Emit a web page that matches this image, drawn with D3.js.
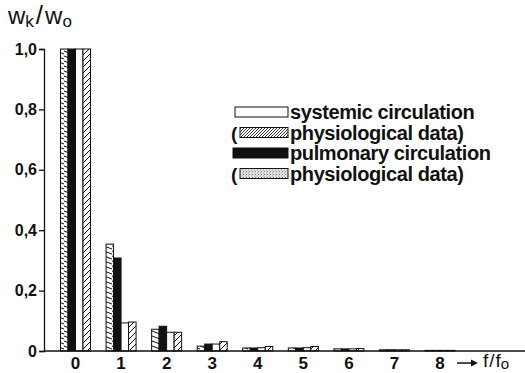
<!DOCTYPE html>
<html>
<head>
<meta charset="utf-8">
<script src="https://cdn.jsdelivr.net/npm/d3@7"></script>
<style>
  body { margin: 0; background: #fff; }
  svg text { font-family: "Liberation Sans", Arial, sans-serif; fill: #111; }
</style>
</head>
<body>
<svg id="chart" width="525" height="373"></svg>
<script>
// harmonics of the input impedance spectrum, w_k / w_0
var harmonics = [0, 1, 2, 3, 4, 5, 6, 7, 8];
var pulmPhys  = [1, 0.354, 0.072, 0.016, 0.010, 0.010, 0.007, 0.004, 0.002];
var pulmonary = [1, 0.308, 0.082, 0.023, 0.010, 0.010, 0.007, 0.004, 0.002];
var systemic  = [1, 0.093, 0.062, 0.023, 0.011, 0.011, 0.007, 0.004, 0.002];
var systPhys  = [1, 0.096, 0.062, 0.031, 0.015, 0.015, 0.008, 0.004, 0.002];
var yTicks = [0, 0.2, 0.4, 0.6, 0.8, 1.0];
var legendLabels = ["systemic circulation", "physiological data)", "pulmonary circulation", "physiological data)"];

var svg = d3.select("#chart");
var defs = svg.append("defs");

// near horizontal hatch used in the bars for the stippled series
var hh = defs.append("pattern").attr("id", "hhatch")
    .attr("patternUnits", "userSpaceOnUse").attr("width", 8).attr("height", 5);
hh.append("rect").attr("width", 8).attr("height", 5).attr("fill", "#fff");
hh.append("line").attr("x1", 0).attr("y1", 1).attr("x2", 8).attr("y2", 4)
    .attr("stroke", "#111").attr("stroke-width", 1);

// diagonal hatch
var dh = defs.append("pattern").attr("id", "dhatch")
    .attr("patternUnits", "userSpaceOnUse").attr("width", 6).attr("height", 6);
dh.append("rect").attr("width", 6).attr("height", 6).attr("fill", "#fff");
dh.append("path").attr("d", "M0,6 L6,0 M-1,1 L1,-1 M5,7 L7,5")
    .attr("stroke", "#111").attr("stroke-width", 1);

// fine diagonal hatch for the legend swatch
var lh = defs.append("pattern").attr("id", "lhatch")
    .attr("patternUnits", "userSpaceOnUse").attr("width", 3).attr("height", 3);
lh.append("rect").attr("width", 3).attr("height", 3).attr("fill", "#fff");
lh.append("path").attr("d", "M0,3 L3,0").attr("stroke", "#333").attr("stroke-width", 1);

// stipple for legend swatch
var st = defs.append("pattern").attr("id", "stipple")
    .attr("patternUnits", "userSpaceOnUse").attr("width", 3).attr("height", 3);
st.append("rect").attr("width", 3).attr("height", 3).attr("fill", "#e4e4e4");
st.append("rect").attr("x", 0).attr("y", 0).attr("width", 1).attr("height", 1).attr("fill", "#777");
st.append("rect").attr("x", 2).attr("y", 1.5).attr("width", 1).attr("height", 1).attr("fill", "#999");

var x = d3.scaleLinear().domain([0, 8]).range([75.5, 440]);
var y = d3.scaleLinear().domain([0, 1]).range([351, 49]);

var series = [
  { values: pulmPhys,  fill: "url(#hhatch)" },
  { values: pulmonary, fill: "#111" },
  { values: systemic,  fill: "#fff" },
  { values: systPhys,  fill: "url(#dhatch)" }
];
var inner = d3.scaleBand().domain(d3.range(series.length)).range([-15, 15]).padding(0);

// bars
series.forEach(function(s, si) {
  svg.append("g").selectAll("rect")
    .data(harmonics)
    .enter().append("rect")
      .attr("x", function(d) { return x(d) + inner(si); })
      .attr("y", function(d, i) { return y(s.values[i]); })
      .attr("width", inner.bandwidth())
      .attr("height", function(d, i) { return y(0) - y(s.values[i]); })
      .attr("fill", s.fill)
      .attr("stroke", "#111")
      .attr("stroke-width", 1);
});

// y axis
var yAxis = d3.axisLeft(y).tickValues(yTicks).tickSize(5).tickPadding(2)
    .tickFormat(function(d) { return d === 0 ? "0" : d3.format(".1f")(d).replace(".", ","); });
var gy = svg.append("g").attr("transform", "translate(44,0)").call(yAxis);
gy.select(".domain").attr("stroke", "#111").attr("stroke-width", 1.3);
gy.selectAll(".tick line").attr("stroke", "#111").attr("stroke-width", 1.3);
gy.selectAll(".tick text").attr("font-size", 16).attr("font-weight", "bold")
    .attr("font-family", "Liberation Sans, Arial, sans-serif").attr("fill", "#111");

// x baseline and labels
svg.append("line").attr("x1", 44).attr("x2", 525).attr("y1", y(0)).attr("y2", y(0))
    .attr("stroke", "#111").attr("stroke-width", 1.3);
svg.append("g").selectAll("text")
  .data(harmonics)
  .enter().append("text")
    .attr("x", function(d) { return x(d); })
    .attr("y", 369)
    .attr("text-anchor", "middle")
    .attr("font-size", 17).attr("font-weight", "bold")
    .text(function(d) { return d; });

// arrow and f/fo
svg.append("line").attr("x1", 457).attr("x2", 474).attr("y1", 363).attr("y2", 363)
    .attr("stroke", "#111").attr("stroke-width", 1.5);
svg.append("path").attr("d", "M478,363 L471,359.5 L471,366.5 Z").attr("fill", "#111");
var ff = svg.append("text").attr("x", 483).attr("y", 367).attr("font-size", 19);
ff.append("tspan").text("f");
ff.append("tspan").attr("dx", 1).text("/");
ff.append("tspan").attr("dx", 1).text("f");
ff.append("tspan").attr("font-size", 15).attr("dy", 2).text("o");

// y title  w_k / w_o
var yt = svg.append("text").attr("x", 8).attr("y", 24).attr("font-size", 24);
yt.append("tspan").text("w");
yt.append("tspan").attr("font-size", 17).attr("dy", 3).text("k");
yt.append("tspan").attr("dy", -3).attr("dx", 2).attr("font-size", 26).text("/");
yt.append("tspan").attr("dx", 2).attr("dy", 0).text("w");
yt.append("tspan").attr("font-size", 17).attr("dy", 3).text("o");

// legend
var legend = svg.append("g");
var swatches = [
  { x: 235, w: 53, fill: "#fff", paren: false },
  { x: 240, w: 48, fill: "url(#lhatch)", paren: true },
  { x: 233, w: 55, fill: "#111", paren: false },
  { x: 240, w: 48, fill: "url(#stipple)", paren: true }
];
legendLabels.forEach(function(lbl, i) {
  var by = 119 + i * 20.5;
  var sw = swatches[i];
  if (sw.paren) {
    legend.append("text").attr("x", 231).attr("y", by).attr("font-size", 19)
      .attr("font-weight", "bold").text("(");
  }
  legend.append("rect").attr("x", sw.x).attr("y", by - 12).attr("width", sw.w).attr("height", 10)
    .attr("fill", sw.fill).attr("stroke", "#111").attr("stroke-width", 1);
  legend.append("text").attr("x", 290).attr("y", by).attr("font-size", 20)
    .attr("font-weight", "bold").attr("letter-spacing", -0.4).text(lbl);
});
</script>
</body>
</html>
